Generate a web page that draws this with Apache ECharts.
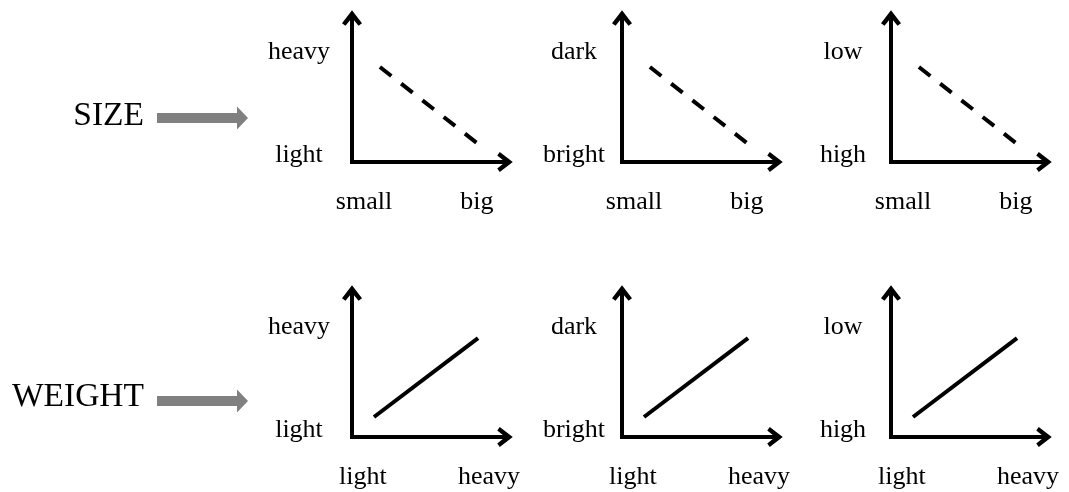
<!DOCTYPE html>
<html>
<head>
<meta charset="utf-8">
<script src="https://cdn.jsdelivr.net/npm/echarts@6/dist/echarts.min.js"></script>
<style>
  html, body { margin: 0; padding: 0; background: #fff; }
  #chart { width: 1069px; height: 492px; }
</style>
</head>
<body>
<div id="chart"></div>
<script>
// row titles and axis words
const rowNames = ['SIZE', 'WEIGHT'];
const rowXLabels = [['small', 'big'], ['light', 'heavy']];
const panelYLabels = [['light', 'heavy'], ['bright', 'dark'], ['high', 'low']];

// where the axis words sit on the 0..100 axes
const xLabelPos = [[7.7, 80.1], [7, 87.8]];
const yLabelPos = [4.7, 74.9];

// the trend drawn in each panel of a row
const sizeTrend = [[17.9, 64.6], [80.1, 12.9]];
const weightTrend = [[14.1, 13.6], [80.8, 67.3]];

// layout
const panelLeft = [352, 622, 891];
const yLabelMargin = [53, 48, 48];
const rowTop = [15, 290];
const gridW = 156, gridH = 147;
const font = '"Liberation Serif", "Times New Roman", serif';
const arrowHead = 'path://M10 0 L20 13 L16.5 15.5 L10 7.5 L3.5 15.5 L0 13 Z';

let chart = echarts.init(document.getElementById('chart'), null, {renderer: 'canvas'});

let grid = [], xAxis = [], yAxis = [], series = [];
rowTop.forEach((top, r) => {
    panelLeft.forEach((left, p) => {
        let i = grid.length;
        grid.push({left: left, top: top, width: gridW, height: gridH, containLabel: false, outerBoundsMode: 'none'});
        let axisLine = {
            show: true,
            symbol: ['none', arrowHead],
            symbolSize: [20, 16],
            symbolOffset: [0, -3],
            lineStyle: {color: '#000', width: 4, cap: 'square'}
        };
        xAxis.push({
            type: 'value', gridIndex: i, min: 0, max: 100,
            axisLine: axisLine,
            axisTick: {show: false},
            splitLine: {show: false},
            axisLabel: {
                customValues: xLabelPos[r],
                formatter: v => rowXLabels[r][xLabelPos[r].indexOf(v)] || '',
                margin: 27,
                color: '#000', fontSize: 26, fontFamily: font
            }
        });
        yAxis.push({
            type: 'value', gridIndex: i, min: 0, max: 100,
            axisLine: axisLine,
            axisTick: {show: false},
            splitLine: {show: false},
            axisLabel: {
                customValues: yLabelPos,
                formatter: v => panelYLabels[p][yLabelPos.indexOf(v)] || '',
                margin: yLabelMargin[p],
                align: 'center',
                color: '#000', fontSize: 26, fontFamily: font
            }
        });
        series.push({
            type: 'line',
            xAxisIndex: i, yAxisIndex: i,
            data: r === 0 ? sizeTrend : weightTrend,
            symbol: 'none',
            lineStyle: r === 0
                ? {color: '#000', width: 4, type: [14.5, 12.5], cap: 'butt'}
                : {color: '#000', width: 4},
            silent: true
        });
    });
});

// big row titles with grey pointer arrows
const titleY = [116, 397];
const pointerY = [118, 401];
let graphic = [];
rowNames.forEach((name, r) => {
    graphic.push({
        type: 'text',
        style: {
            text: name, x: 144, y: titleY[r],
            align: 'right', verticalAlign: 'middle',
            font: '33.5px ' + font, fill: '#000'
        }
    });
    let y = pointerY[r];
    graphic.push({
        type: 'polygon',
        shape: {points: [[157, y - 5], [237, y - 5], [237, y - 11.5], [248, y], [237, y + 11.5], [237, y + 5], [157, y + 5]]},
        style: {fill: '#808080'}
    });
});

chart.setOption({
    animation: false,
    grid: grid,
    xAxis: xAxis,
    yAxis: yAxis,
    series: series,
    graphic: graphic
});
</script>
</body>
</html>
